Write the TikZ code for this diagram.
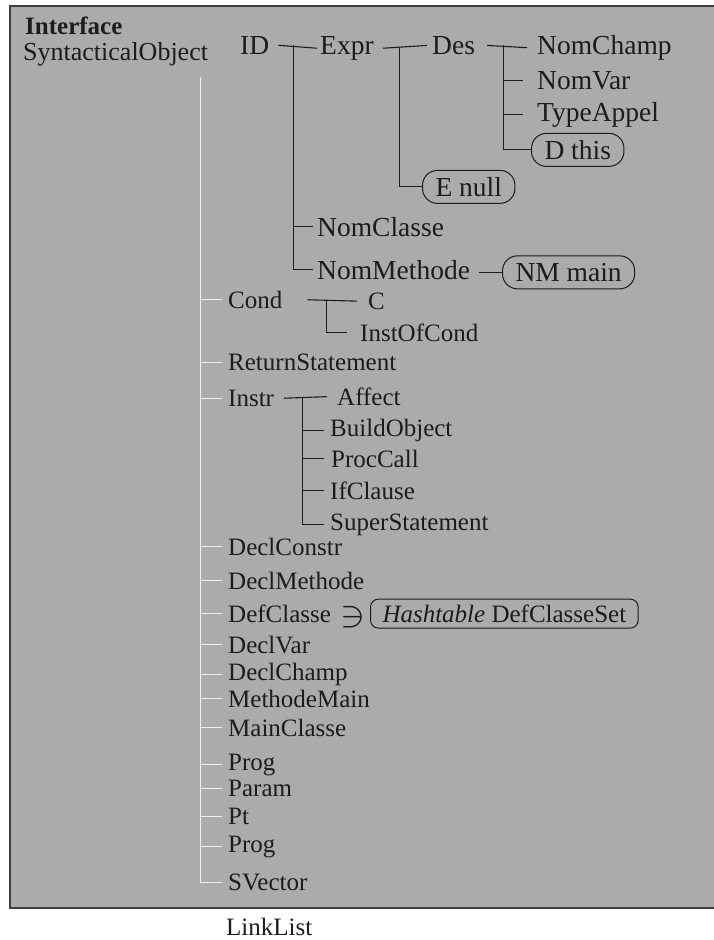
\documentclass[tikz,border=0pt]{standalone}
\usepackage{fontspec}
\setmainfont{Liberation Serif}
\usetikzlibrary{positioning}
\definecolor{bggray}{RGB}{171,171,171}
\definecolor{ink}{RGB}{28,28,28}
\tikzset{
  lbl/.style={inner sep=0pt,anchor=mid west,yshift=-5pt,text=ink,font=\fontsize{25}{28}\selectfont},
  biglbl/.style={lbl,font=\fontsize{27.5}{30}\selectfont},
  oval/.style={biglbl,draw=ink,line width=1pt,rounded corners=15pt,inner xsep=13pt,minimum height=33pt},
  setbox/.style={lbl,draw=ink,line width=1pt,rounded corners=8pt,inner xsep=12pt,minimum height=29pt},
  tline/.style={draw=ink,line width=1.1pt},
  wline/.style={draw=white!80!bggray,line width=.9pt}
}
\begin{document}
\begin{tikzpicture}[x=1pt,y=-1pt]
  \useasboundingbox (0,0) rectangle (714,940);
  \fill[bggray] (10,6) rectangle (714,908);
  \draw[draw=black!75,line width=1.4pt] (714,6) -- (10,6) -- (10,908) -- (714,908);
  % header
  \node[lbl,font=\fontsize{25}{28}\selectfont\bfseries] (iface) at (25,27) {Interface};
  \node[lbl,font=\fontsize{26}{28}\selectfont] (synobj) at (23,53) {SyntacticalObject};
  % ID subtree
  \node[biglbl] (id) at (240,47) {ID};
  \node[biglbl] (expr) at (320,47) {Expr};
  \node[biglbl] (des) at (432,47) {Des};
  \node[biglbl] (nomchamp) at (537,47) {NomChamp};
  \node[biglbl] (nomvar) at (537,82) {NomVar};
  \node[biglbl] (typeappel) at (537,114) {TypeAppel};
  \node[oval] (dthis) at (531,152) {D this};
  \node[oval] (enull) at (422,189) {E null};
  \node[biglbl] (nomclasse) at (317,229) {NomClasse};
  \node[biglbl] (nommethode) at (317,272) {NomMethode};
  \node[oval] (nmmain) at (502,274) {NM main};
  \coordinate (idT) at ([xshift=24pt]id.east);
  \coordinate (exprT) at ([xshift=26pt]expr.east);
  \coordinate (desT) at ([xshift=28pt]des.east);
  \draw[tline] ([xshift=9pt]id.east) -- ([xshift=-3pt]expr.west);
  \draw[tline] (idT) |- ([xshift=-4pt]nommethode.west);
  \draw[tline] (idT |- nomclasse.west) -- ([xshift=-4pt]nomclasse.west);
  \draw[tline] ([xshift=9pt]expr.east) -- ([xshift=-5pt]des.west);
  \draw[tline] (exprT) |- (enull.west);
  \draw[tline] ([xshift=12pt]des.east) -- ([xshift=-10pt]nomchamp.west);
  \draw[tline] (desT) |- (dthis.west);
  \draw[tline] (desT |- nomvar.west) -- ([xshift=-14pt]nomvar.west);
  \draw[tline] (desT |- typeappel.west) -- ([xshift=-14pt]typeappel.west);
  \draw[tline] ([xshift=9pt]nommethode.east |- nmmain.west) -- (nmmain.west);
  % main list
  \node[lbl] (cond) at (228,301) {Cond};
  \node[lbl] (retst) at (228,363) {ReturnStatement};
  \node[lbl] (instr) at (228,399) {Instr};
  \node[lbl] (declconstr) at (228,548) {DeclConstr};
  \node[lbl] (declmeth) at (228,582) {DeclMethode};
  \node[lbl] (defclasse) at (228,615) {DefClasse};
  \node[lbl] (declvar) at (228,646) {DeclVar};
  \node[lbl] (declchamp) at (228,673) {DeclChamp};
  \node[lbl] (methmain) at (228,700) {MethodeMain};
  \node[lbl] (mainclasse) at (228,729) {MainClasse};
  \node[lbl] (prog) at (228,763) {Prog};
  \node[lbl] (param) at (228,789) {Param};
  \node[lbl] (pt) at (228,817) {Pt};
  \node[lbl] (progb) at (228,845) {Prog};
  \node[lbl] (svector) at (228,883) {SVector};
  \node[lbl] (linklist) at (226,928) {LinkList};
  \coordinate (trunk) at (200,77);
  \draw[wline] (trunk) |- ([xshift=-6pt]svector.west);
  \foreach \n in {cond,retst,instr,declconstr,declmeth,defclasse,declvar,declchamp,methmain,mainclasse,prog,param,pt,progb}
    \draw[wline] (trunk |- \n.west) -- ([xshift=-6pt]\n.west);
  % Cond subtree
  \node[lbl] (c) at (368,302) {C};
  \node[lbl] (instof) at (360,334) {InstOfCond};
  \coordinate (condT) at ([xshift=44pt]cond.east);
  \draw[tline] ([xshift=25pt]cond.east) -- ([xshift=-11pt]c.west);
  \draw[tline] (condT) |- ([xshift=-13pt]instof.west);
  % Instr subtree
  \node[lbl] (affect) at (337,398) {Affect};
  \node[lbl] (buildobj) at (330,429) {BuildObject};
  \node[lbl] (proccall) at (331,460) {ProcCall};
  \node[lbl] (ifclause) at (330,492) {IfClause};
  \node[lbl] (superst) at (330,523) {SuperStatement};
  \coordinate (instrT) at ([xshift=28pt]instr.east);
  \draw[tline] ([xshift=10pt]instr.east) -- ([xshift=-10pt]affect.west);
  \draw[tline] (instrT) |- ([xshift=-6pt]superst.west);
  \draw[tline] (instrT |- buildobj.west) -- ([xshift=-6pt]buildobj.west);
  \draw[tline] (instrT |- proccall.west) -- ([xshift=-7pt]proccall.west);
  \draw[tline] (instrT |- ifclause.west) -- ([xshift=-6pt]ifclause.west);
  % DefClasse set
  \node[lbl,anchor=west] (ni) at (340,612) {\scalebox{1.5}{$\ni$}};
  \node[setbox] (hset) at (370,615) {\textit{Hashtable} DefClasseSet};
\end{tikzpicture}
\end{document}
